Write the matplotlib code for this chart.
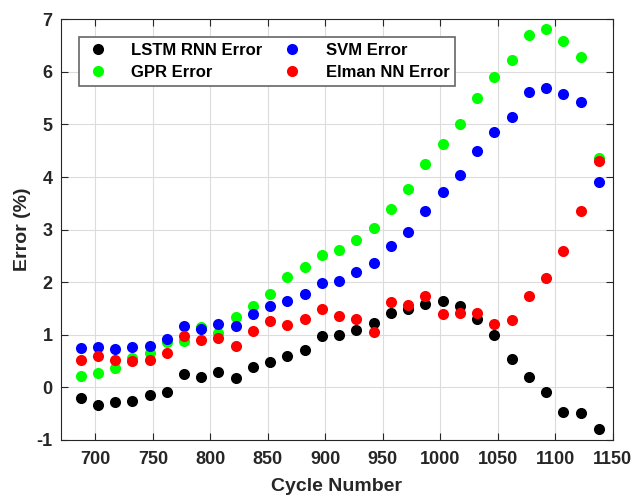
import matplotlib.pyplot as plt

cycles = [687, 702, 717, 732, 747, 762, 777, 792, 807, 822, 837, 852, 867, 882, 897,
          912, 927, 942, 957, 972, 987, 1002, 1017, 1032, 1047, 1062, 1077, 1092, 1107,
          1122, 1138]

lstm_err = [-0.20, -0.33, -0.27, -0.25, -0.14, -0.09, 0.25, 0.20, 0.29, 0.18, 0.38, 0.49,
            0.60, 0.72, 0.97, 1.00, 1.09, 1.22, 1.42, 1.50, 1.59, 1.64, 1.54, 1.31, 1.00,
            0.54, 0.20, -0.09, -0.47, -0.48, -0.79]
gpr_err = [0.22, 0.28, 0.37, 0.56, 0.66, 0.87, 0.88, 1.14, 1.04, 1.34, 1.54, 1.78, 2.10,
           2.29, 2.51, 2.61, 2.81, 3.03, 3.40, 3.77, 4.24, 4.63, 5.00, 5.50, 5.91, 6.22,
           6.71, 6.82, 6.58, 6.29, 4.36]
svm_err = [0.74, 0.76, 0.73, 0.76, 0.79, 0.93, 1.17, 1.12, 1.20, 1.16, 1.39, 1.54, 1.64,
           1.78, 1.98, 2.03, 2.19, 2.36, 2.69, 2.96, 3.36, 3.72, 4.03, 4.49, 4.86, 5.15,
           5.62, 5.70, 5.58, 5.43, 3.90]
elman_err = [0.53, 0.59, 0.53, 0.50, 0.52, 0.66, 0.97, 0.90, 0.94, 0.79, 1.08, 1.26, 1.19,
             1.31, 1.49, 1.35, 1.30, 1.06, 1.62, 1.56, 1.73, 1.39, 1.42, 1.42, 1.21, 1.28,
             1.74, 2.09, 2.59, 3.35, 4.30]

plt.rcParams['font.family'] = 'Liberation Sans'
plt.rcParams['font.weight'] = 'bold'
plt.rcParams['axes.unicode_minus'] = False

fig = plt.figure(figsize=(6.34, 4.96), dpi=100)
ax = fig.add_axes([61 / 634, 1 - 440 / 496, (612.7 - 61) / 634, (440 - 19.3) / 496])

series = [(lstm_err, 'black', 'LSTM RNN Error'),
          (gpr_err, '#00ff00', 'GPR Error'),
          (svm_err, 'blue', 'SVM Error'),
          (elman_err, 'red', 'Elman NN Error')]
for vals, col, lab in series:
    ax.plot(cycles, vals, 'o', color=col, ms=8, mec='none', label=lab, zorder=3)

ax.set_xlim(670, 1150)
ax.set_ylim(-1, 7)
ax.set_xticks(range(700, 1151, 50))
ax.set_yticks(range(-1, 8))
ax.grid(True, color='#dcdcdc', lw=0.8)
ax.tick_params(direction='in', top=True, right=True, labelsize=13, colors='#262626',
               length=5)
ax.tick_params(axis='x', pad=8)
ax.tick_params(axis='y', pad=6)
for s in ax.spines.values():
    s.set_color('#262626')
ax.set_xlabel('Cycle Number', fontsize=14, fontweight='bold', color='#262626', labelpad=7)
ax.set_ylabel('Error (%)', fontsize=14, fontweight='bold', color='#262626', labelpad=4)

leg = ax.legend(ncol=2, loc='upper left', bbox_to_anchor=(0.017, 0.977), fontsize=12,
                frameon=True, fancybox=False, edgecolor='#666666', framealpha=1,
                handletextpad=1.2, columnspacing=1.0, borderpad=0.35, labelspacing=0.4,
                handlelength=1.6)
leg.get_frame().set_linewidth(1.2)

fig.savefig('out.png', dpi=100)
